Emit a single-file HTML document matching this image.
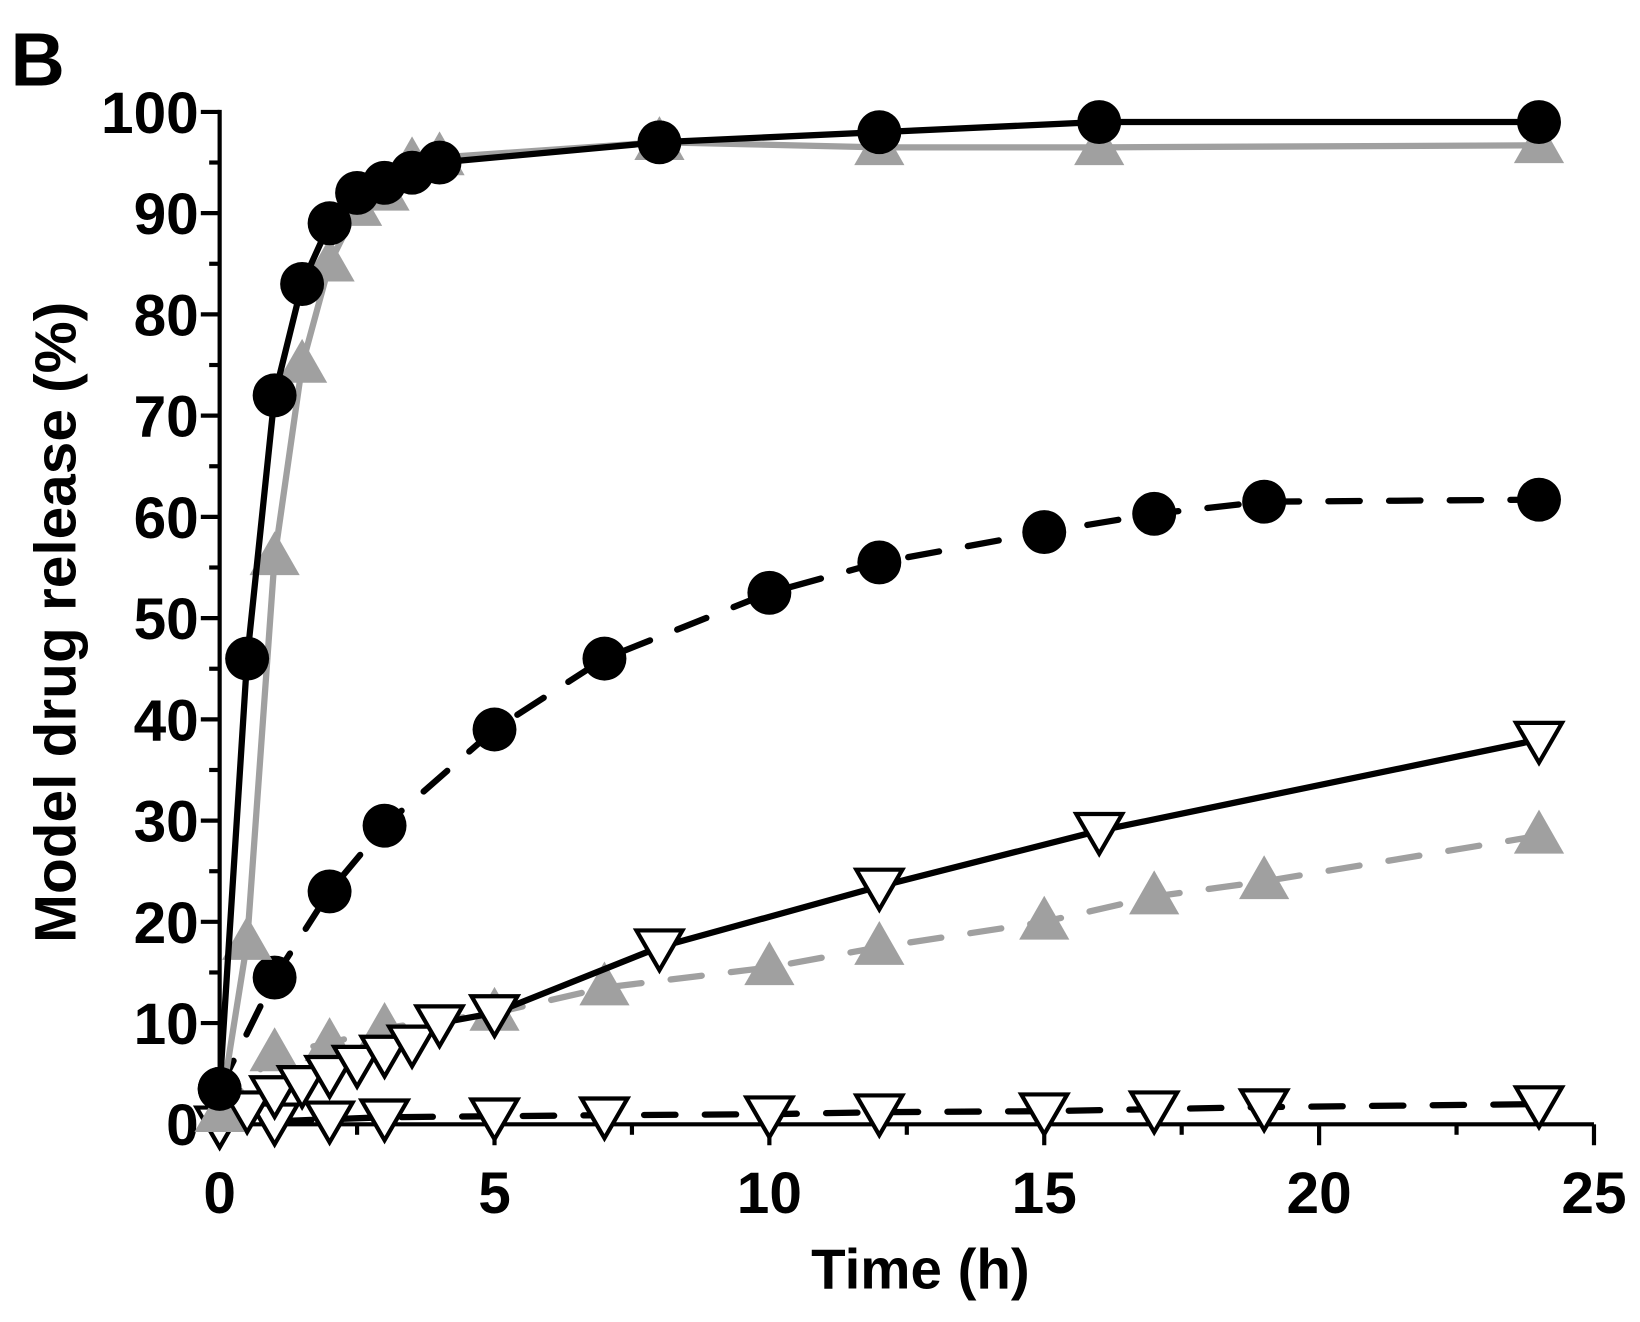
<!DOCTYPE html>
<html><head><meta charset="utf-8"><style>
html,body{margin:0;padding:0;background:#fff;}
svg{display:block;}
text{font-family:"Liberation Sans",Arial,sans-serif;font-weight:bold;fill:#000;}
</style></head><body>
<svg id="s" width="1640" height="1322" viewBox="0 0 1568 1264" preserveAspectRatio="none" xmlns="http://www.w3.org/2000/svg">
<text x="10" y="82" font-size="72">B</text>
<text transform="translate(72,595) rotate(-90)" text-anchor="middle" font-size="56">Model drug release (%)</text>
<text x="880" y="1232" text-anchor="middle" font-size="54">Time (h)</text>
<g id="g"></g>
</svg>
<script>
var X=function(t){return 210+t*52.56;}, Y=function(v){return 1075-v*9.68;};
var g=document.getElementById('g'),h='';
h+='<line x1="210" y1="105" x2="210" y2="1077" stroke="#000" stroke-width="4"/>';
h+='<line x1="208" y1="1075" x2="1524" y2="1075" stroke="#000" stroke-width="4"/>';
for(var v=0;v<=100;v+=5){var y=Y(v),L=v%10?10:18;h+='<line x1="'+(210-L)+'" y1="'+y+'" x2="210" y2="'+y+'" stroke="#000" stroke-width="4"/>';
 if(v%10==0)h+='<text x="190" y="'+(y+20)+'" text-anchor="end" font-size="56">'+v+'</text>';}
for(var t=0;t<=25;t+=2.5){var x=X(t),L=(t%5)?10:20;h+='<line x1="'+x+'" y1="1075" x2="'+x+'" y2="'+(1075+L)+'" stroke="#000" stroke-width="4"/>';
 if(t%5==0)h+='<text x="'+x+'" y="1160" text-anchor="middle" font-size="56">'+t+'</text>';}
function pts(d){return d.map(function(p){return X(p[0])+','+Y(p[1]);}).join(' ');}
function line(d,c,dash){return '<polyline points="'+pts(d)+'" fill="none" stroke="'+c+'" stroke-width="6" stroke-linecap="round" stroke-linejoin="round"'+(dash?' stroke-dasharray="30,28"':'')+'/>';}
function circ(d){return d.map(function(p){return '<circle cx="'+X(p[0])+'" cy="'+Y(p[1])+'" r="21" fill="#000"/>';}).join('');}
function tup(d){return d.map(function(p){var x=X(p[0]),y=Y(p[1]);return '<polygon points="'+x+','+(y-25)+' '+(x+24)+','+(y+17)+' '+(x-24)+','+(y+17)+'" fill="#a0a0a0"/>';}).join('');}
function tdn(d){return d.map(function(p){var x=X(p[0]),y=Y(p[1]);return '<polygon points="'+(x-22)+','+(y-16)+' '+(x+22)+','+(y-16)+' '+x+','+(y+22)+'" fill="#fff" stroke="#000" stroke-width="4"/>';}).join('');}
var A=[[0,3.5],[0.5,46],[1,72],[1.5,83],[2,89],[2.5,92],[3,93],[3.5,94],[4,95],[8,97],[12,98],[16,99],[24,99]];
var B=[[0,1],[0.5,18],[1,56],[1.5,75],[2,85],[2.5,90.5],[3,92],[3.5,95],[4,95.5],[8,97],[12,96.5],[16,96.5],[24,96.7]];
var C=[[0,3.5],[1,14.5],[2,23],[3,29.5],[5,39],[7,46],[10,52.5],[12,55.5],[15,58.5],[17,60.3],[19,61.5],[24,61.7]];
var D=[[0,0],[0.5,1.5],[1,3],[1.5,4],[2,5],[2.5,6],[3,7],[3.5,8],[4,10],[5,11],[8,17.5],[12,23.5],[16,29],[24,38]];
var E=[[0,1],[1,7],[2,8],[3,9.5],[5,11],[7,13.5],[10,15.5],[12,17.5],[15,20],[17,22.5],[19,24],[24,28.5]];
var F=[[0,0],[1,0.3],[2,0.5],[3,0.7],[5,0.8],[7,0.9],[10,1],[12,1.2],[15,1.3],[17,1.5],[19,1.7],[24,2]];
h+=line(F,'#000',1)+tdn(F);
h+=line(E,'#a0a0a0',1)+tup(E);
h+=line(D,'#000',0)+tdn(D);
h+=line(C,'#000',1)+circ(C);
h+=line(B,'#a0a0a0',0)+tup(B);
h+=line(A,'#000',0)+circ(A);
g.innerHTML=h;
</script>
</body></html>
